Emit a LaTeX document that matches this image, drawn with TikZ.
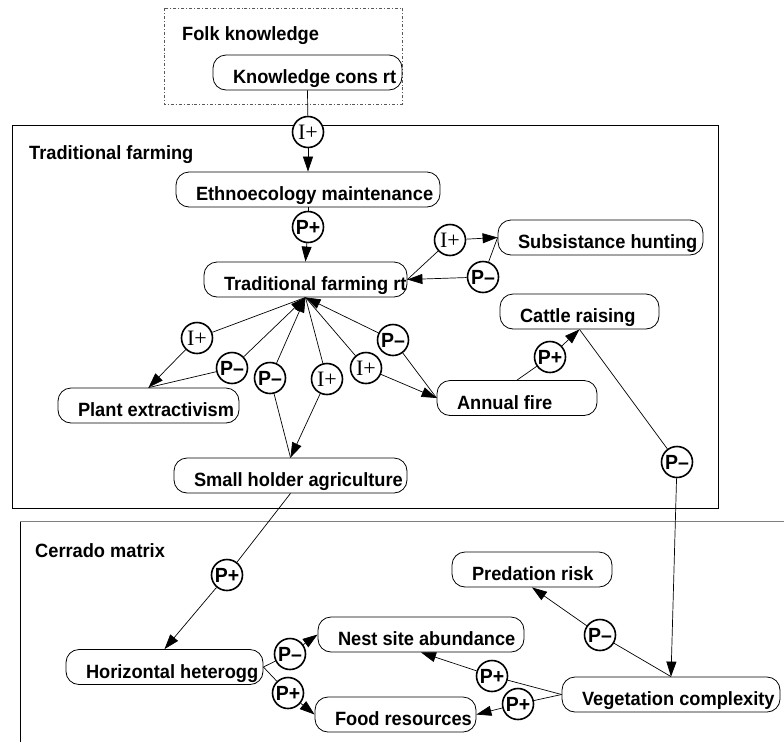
\documentclass[tikz,border=0pt]{standalone}
\usepackage{fontspec}
\setmainfont{Liberation Sans}[FakeStretch=0.95]
\newfontfamily\serifI{Liberation Serif}
\usetikzlibrary{arrows.meta}
\newcommand{\boxlbl}[2]{\makebox[#1pt][l]{\hspace{20pt}#2}}
\tikzset{
  bx/.style={draw, line width=0.8pt, rounded corners=13pt, inner xsep=0pt, inner ysep=0pt,
    text height=28.5pt, text depth=6.5pt, font=\fontsize{19.2}{21}\selectfont\bfseries},
  circ/.style={draw, circle, line width=1.6pt, minimum size=31pt, inner sep=0pt, fill=white,
    font=\fontsize{20.5}{22}\selectfont\bfseries},
  icirc/.style={circ, font=\fontsize{22}{23}\selectfont\serifI},
  ttl/.style={anchor=west, inner sep=0pt, font=\fontsize{19.2}{21}\selectfont\bfseries},
  ln/.style={line width=0.7pt},
  ar/.style={line width=0.7pt, -{Triangle[length=15pt,width=10pt]}},
}
\begin{document}
\begin{tikzpicture}[x=1pt,y=-1pt]
\useasboundingbox (0,0) rectangle (784,742);
% frames
\draw[line width=0.9pt, gray!70!black, dash dot] (164,8) rectangle (402,104);
\draw[line width=0.9pt] (12,125) rectangle (718,508);
\draw[line width=0.9pt] (20,742) -- (20,521);
\draw[line width=0.9pt, gray] (20,521) -- (784,521);
\node[ttl] (tfolk) at (182,36) {Folk knowledge};
\node[ttl] (ttrad) at (29,155) {Traditional farming};
\node[ttl] (tcer) at (35,551) {Cerrado matrix};
% boxes
\node[bx] (kc) at (307.5,72.5) {\boxlbl{189}{Knowledge cons rt}};
\node[bx] (eth) at (308,189.5) {\boxlbl{264}{Ethnoecology maintenance}};
\node[bx] (tf) at (305.5,279.5) {\boxlbl{203}{Traditional farming rt}};
\node[bx] (sub) at (600.5,237.5) {\boxlbl{205}{Subsistance hunting}};
\node[bx] (cat) at (579.5,311.5) {\boxlbl{159}{Cattle raising}};
\node[bx] (fire) at (517,398) {\boxlbl{160}{Annual fire}};
\node[bx] (plant) at (148.5,405.5) {\boxlbl{181}{Plant extractivism}};
\node[bx] (small) at (290.5,475.5) {\boxlbl{233}{Small holder agriculture}};
\node[bx] (hor) at (164.5,667) {\boxlbl{197}{Horizontal heterogg}};
\node[bx] (nest) at (421,634.5) {\boxlbl{206}{Nest site abundance}};
\node[bx] (food) at (395.5,714.5) {\boxlbl{161}{Food resources}};
\node[bx] (pred) at (532,569.5) {\boxlbl{160}{Predation risk}};
\node[bx] (veg) at (671,694.5) {\boxlbl{218}{Vegetation complexity}};
% circles
\node[icirc] (c1) at (308,132) {I+};
\node[circ] (c2) at (308,227) {P+};
\node[icirc] (c3) at (450,240) {I+};
\node[circ] (c4) at (483,277) {P–};
\node[icirc] (c5) at (197,338) {I+};
\node[circ] (c6) at (232,368) {P–};
\node[circ] (c7) at (270,378) {P–};
\node[icirc] (c8) at (327,379) {I+};
\node[icirc] (c9) at (366,368) {I+};
\node[circ] (c10) at (393,340) {P–};
\node[circ] (c11) at (550,357) {P+};
\node[circ] (c12) at (677,462) {P–};
\node[circ] (c13) at (227,575) {P+};
\node[circ] (c14) at (290,654) {P–};
\node[circ] (c15) at (288,693) {P+};
\node[circ] (c16) at (600,635) {P–};
\node[circ] (c17) at (492,676) {P+};
\node[circ] (c18) at (518,704) {P+};
% connectors
\draw[ln] (kc.south) -- (c1); \draw[ar] (c1) -- (eth.north);
\draw[ln] (eth.south) -- (c2); \draw[ar] (c2) -- (tf.north);
\draw[ln] (tf.east) -- (c3); \draw[ar] (c3) -- (sub.west);
\draw[ln] (sub.west) -- (c4); \draw[ar] (c4) -- (tf.east);
\draw[ln] (tf.south) -- (c5); \draw[ar] (c5) -- (plant.north);
\draw[ln] (plant.north) -- (c6); \draw[ar] (c6) -- (tf.south);
\draw[ln] (small.north) -- (c7); \draw[ar] (c7) -- (tf.south);
\draw[ln] (tf.south) -- (c8); \draw[ar] (c8) -- (small.north);
\draw[ln] (tf.south) -- (c9); \draw[ar] (c9) -- (fire.west);
\draw[ln] (fire.west) -- (c10); \draw[ar] (c10) -- (tf.south);
\draw[ln] (fire.north) -- (c11); \draw[ar] (c11) -- (cat.south);
\draw[ln] (cat.south) -- (c12); \draw[ar] (c12) -- (veg.north);
\draw[ln] (small.south) -- (c13); \draw[ar] (c13) -- (hor.north);
\draw[ln] (hor.east) -- (c14); \draw[ar] (c14) -- (nest.west);
\draw[ln] (hor.east) -- (c15); \draw[ar] (c15) -- (food.west);
\draw[ln] (veg.north) -- (c16); \draw[ar] (c16) -- (pred.south);
\draw[ln] (veg.west) -- (c17); \draw[ar] (c17) -- (nest.south);
\draw[ln] (veg.west) -- (c18); \draw[ar] (c18) -- (food.east);
\end{tikzpicture}
\end{document}
